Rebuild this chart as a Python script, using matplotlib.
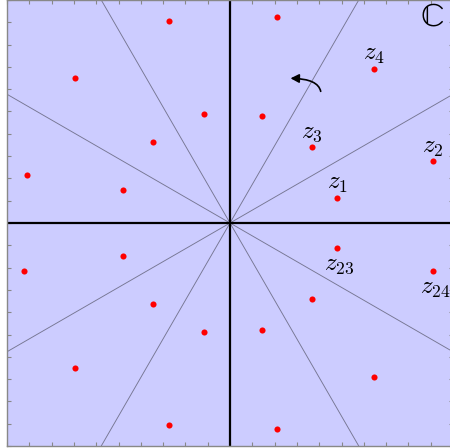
import numpy as np
import matplotlib
matplotlib.use("Agg")
import matplotlib.pyplot as plt
from matplotlib.patches import FancyArrowPatch

plt.rcParams["mathtext.fontset"] = "cm"

# Points z_1 ... z_24: two per 30-degree sector, inner then outer, counterclockwise
z_re = [0.482, 0.910, 0.366, 0.647, 0.143, 0.213, -0.115, -0.274,
        -0.345, -0.695, -0.478, -0.912, -0.478, -0.926, -0.345, -0.695,
        -0.115, -0.274, 0.143, 0.213, 0.366, 0.647, 0.482, 0.910]
z_im = [0.113, 0.276, 0.342, 0.691, 0.481, 0.926, 0.487, 0.908,
        0.364, 0.651, 0.148, 0.217, -0.147, -0.217, -0.362, -0.649,
        -0.488, -0.908, -0.480, -0.926, -0.339, -0.691, -0.111, -0.216]

# Which points get a name, and whether the name sits above (+1) or below (-1)
labelled = [1, 2, 3, 4, 23, 24]
label_side = [1, 1, 1, 1, -1, -1]

# Rays through the origin separating the sectors (besides the axes)
ray_angles_deg = [30, 60, 120, 150]

fig = plt.figure(figsize=(4.5, 4.48), dpi=100)
ax = fig.add_axes([7 / 450, 2 / 448, 446 / 450, 446 / 448])
ax.set_facecolor("#ccccff")
ax.set_xlim(-1, 1)
ax.set_ylim(-1, 1)

for a in ray_angles_deg:
    ax.axline((0, 0), slope=np.tan(np.radians(a)), color="#767692", lw=0.65, zorder=1)

ax.axhline(0, color="black", lw=1.6, zorder=2)
ax.axvline(0, color="black", lw=1.6, zorder=2)

ax.plot(z_re, z_im, "o", color="red", ms=4.4, mew=0, zorder=3)

for k, side in zip(labelled, label_side):
    i = k - 1
    ax.annotate(rf"$z_{{{k}}}$", (z_re[i], z_im[i]),
                xytext=(1.5 if side < 0 else 0, 10.5 if side > 0 else -12),
                textcoords="offset points", ha="center", va="center",
                fontsize=18, zorder=4)

ax.text(0.905, 0.918, "\u2102", fontsize=24, family="STIXGeneral",
        ha="center", va="center", zorder=4)

# Rotation arrow
arrow = FancyArrowPatch((0.408, 0.578), (0.259, 0.649),
                        connectionstyle="angle3,angleA=90,angleB=0",
                        arrowstyle="-|>,head_length=5,head_width=2.6",
                        color="black", lw=1.2, zorder=4)
ax.add_patch(arrow)

ticks = np.round(np.arange(-1.0, 1.01, 0.1), 2)
ax.set_xticks(ticks)
ax.set_yticks(ticks)
ax.tick_params(direction="in", length=3, width=0.8, color="#888888",
               labelbottom=False, labelleft=False, top=True, right=True)
for s in ax.spines.values():
    s.set_color("#888888")
    s.set_linewidth(1.0)

fig.savefig("out.png", dpi=100)
